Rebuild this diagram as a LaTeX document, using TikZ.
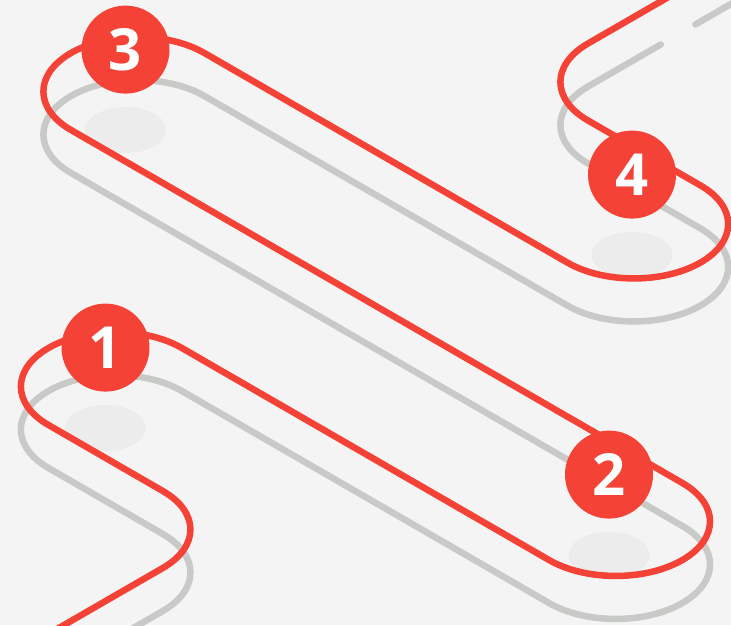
\documentclass[tikz,border=0pt]{standalone}
\usepackage{fontspec}
\setmainfont{Open Sans}
\usetikzlibrary{positioning,shapes.geometric}
\definecolor{pinred}{RGB}{244,67,54}
\definecolor{paper}{RGB}{244,244,244}
\definecolor{trackgray}{RGB}{200,202,199}
\definecolor{spotgray}{RGB}{236,236,236}
\tikzset{
  iso/.style={cm={0.866,-0.5,0.866,0.5,(0,0)}},
  track/.style={draw=pinred, line width=6.5pt, line cap=round},
  trackshadow/.style={draw=trackgray, line width=6.5pt, line cap=round},
  spot/.style={ellipse, fill=spotgray, minimum width=81pt, minimum height=46pt,
               inner sep=0pt},
  pin/.style={circle, fill=pinred, minimum size=88pt, inner sep=0pt,
              text=white, font=\fontsize{58}{58}\selectfont\bfseries}
}
% the route on the floor, in iso units: straights and turns of radius 77
\newcommand{\trackroute}{(37,-60) -- (37,151) arc[start angle=0, end angle=90, radius=77]
  -- (-172,228) arc[start angle=-90, end angle=-270, radius=77]
  -- (252,382) arc[start angle=-90, end angle=90, radius=77]
  -- (-454,536) arc[start angle=-90, end angle=-270, radius=77]
  -- (-35,690) arc[start angle=-90, end angle=90, radius=77]
  -- (-165,844) arc[start angle=-90, end angle=-180, radius=77]
  -- (-242,1005)}
\begin{document}
\begin{tikzpicture}[x=1pt, y=1pt]
\fill[paper] (0,0) rectangle (731,625);
\useasboundingbox (0,0) rectangle (731,625);
% spots under the pins
\node[spot] (s1) at (105.5,197) {};
\node[spot] (s2) at (609,70) {};
\node[spot] (s3) at (125.5,495) {};
\node[spot] (s4) at (632,370) {};
% shadow first, then the track itself
\begin{scope}[yshift=-43pt]
  \draw[trackshadow, iso] \trackroute (-242,1045) -- (-242,1200);
\end{scope}
\draw[track, iso] \trackroute -- (-242,1200);
% numbered pins
\node[pin, above=13pt of s1] (p1) {1};
\node[pin, above=13pt of s2] (p2) {2};
\node[pin, above=13pt of s3] (p3) {3};
\node[pin, above=13pt of s4] (p4) {4};
\end{tikzpicture}
\end{document}
